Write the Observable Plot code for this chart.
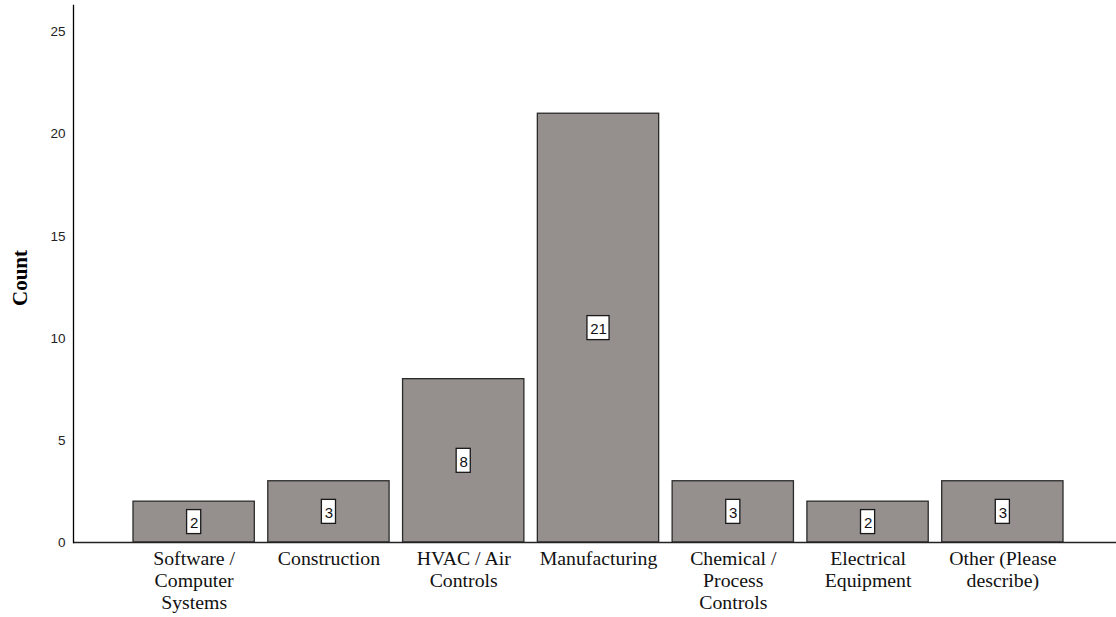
<!DOCTYPE html>
<html><head><meta charset="utf-8">
<script src="https://cdn.jsdelivr.net/npm/d3@7"></script>
<script src="https://cdn.jsdelivr.net/npm/@observablehq/plot@0.6"></script>
<style>
body{margin:0;background:#fff;}
</style></head><body><div id="chart"></div>
<script>
const categories = ["Software / Computer Systems","Construction","HVAC / Air Controls","Manufacturing","Chemical / Process Controls","Electrical Equipment","Other (Please describe)"];
const counts = [2,3,8,21,3,2,3];
const tickLabels = ["Software /\nComputer\nSystems","Construction","HVAC / Air\nControls","Manufacturing","Chemical /\nProcess\nControls","Electrical\nEquipment","Other (Please\ndescribe)"];
const yTicks = [0,5,10,15,20,25];
const yTitle = "Count";

const data = categories.map((c,i)=>({category:c, count:counts[i], label:String(counts[i])}));
const labelFor = new Map(categories.map((c,i)=>[c,tickLabels[i]]));

const box = (rows, inset) => Plot.barY(rows, {
  x:"category", y1:d=>d.count/2, y2:d=>d.count/2,
  fill:"white", stroke:"#1a1a1a", strokeWidth:1.3,
  insetTop:-12, insetBottom:-12, insetLeft:inset, insetRight:inset
});

const chart = Plot.plot({
  width:1116, height:617,
  marginLeft:73, marginRight:0, marginTop:5, marginBottom:75,
  style:{background:"white", color:"#000"},
  x:{domain:categories, paddingInner:0.1, paddingOuter:0, insetLeft:60, insetRight:53, round:false, label:null},
  y:{domain:[0,26.3], label:null},
  marks:[
    Plot.barY(data,{x:"category", y:"count", fill:"#958f8e", stroke:"#2b2b2b", strokeWidth:1.3}),
    box(data.filter(d=>d.label.length===1), 53.6),
    box(data.filter(d=>d.label.length>1), 49.6),
    Plot.text(data,{x:"category", y:d=>d.count/2, text:"label", fontFamily:"Liberation Sans", fontSize:15, fill:"#111", dy:1}),
    Plot.ruleY([0],{stroke:"#222", strokeWidth:1.3}),
    Plot.frame({anchor:"left", stroke:"#000", strokeWidth:1.3}),
    Plot.axisY({ticks:yTicks, tickSize:0, tickPadding:8, fontFamily:"Liberation Sans", fontSize:13.5, fill:"#222", label:null}),
    Plot.text([yTitle],{frameAnchor:"left", text:d=>d, rotate:-90, dx:-53.5, dy:4, textAnchor:"middle", lineAnchor:"middle",
      fontFamily:"Liberation Serif", fontWeight:"bold", fontSize:21, fill:"#000"}),
    Plot.axisX({tickSize:0, tickPadding:7, tickFormat:c=>labelFor.get(c), fontFamily:"Liberation Serif", fontSize:19.8, lineHeight:1.1, fill:"#111", label:null})
  ]
});
document.getElementById("chart").append(chart);
</script></body></html>
